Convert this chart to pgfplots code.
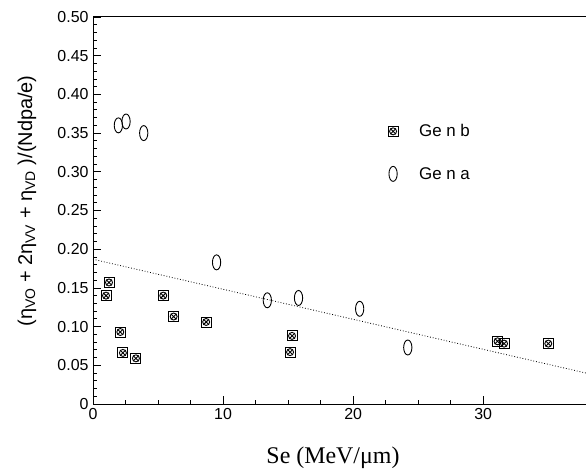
\documentclass[border=0pt]{standalone}
\usepackage{fontspec}
\setmainfont{Liberation Serif}
\newfontfamily\hel{Liberation Sans}
\usepackage{pgfplots}
\pgfplotsset{compat=1.18}

\pgfdeclareplotmark{sqx}{%
  \pgfpathrectangle{\pgfqpoint{-\pgfplotmarksize}{-\pgfplotmarksize}}{\pgfqpoint{2\pgfplotmarksize}{2\pgfplotmarksize}}%
  \pgfusepathqstroke
  \pgfpathcircle{\pgfpointorigin}{0.7\pgfplotmarksize}%
  \pgfusepathqstroke
  \pgfpathmoveto{\pgfqpoint{-0.55\pgfplotmarksize}{-0.55\pgfplotmarksize}}%
  \pgfpathlineto{\pgfqpoint{0.55\pgfplotmarksize}{0.55\pgfplotmarksize}}%
  \pgfpathmoveto{\pgfqpoint{-0.55\pgfplotmarksize}{0.55\pgfplotmarksize}}%
  \pgfpathlineto{\pgfqpoint{0.55\pgfplotmarksize}{-0.55\pgfplotmarksize}}%
  \pgfusepathqstroke
}
\pgfdeclareplotmark{oval}{%
  \pgfpathellipse{\pgfpointorigin}{\pgfqpoint{0.55\pgfplotmarksize}{0pt}}{\pgfqpoint{0pt}{\pgfplotmarksize}}%
  \pgfusepathqstroke
}

\begin{document}
\begin{tikzpicture}
\useasboundingbox (-93bp,-71bp) rectangle (493bp,404bp);
\begin{axis}[
  scale only axis,
  width=493bp, height=387bp,
  xmin=0, xmax=37.9, ymin=0, ymax=0.5,
  axis x line=box, axis y line=left,
  axis line style={line width=1pt, -},
  xtick pos=bottom,
  tick align=inside,
  major tick length=8bp, minor tick length=4bp,
  tick style={black, line width=0.8pt},
  xtick={0,10,20,30}, xticklabels={0,10,20,30},
  minor x tick num=3,
  ytick={0,0.05,0.10,0.15,0.20,0.25,0.30,0.35,0.40,0.45,0.50},
  yticklabels={0,0.05,0.10,0.15,0.20,0.25,0.30,0.35,0.40,0.45,0.50},
  minor y tick num=4,
  ticklabel style={font=\hel\fontsize{16}{18}\selectfont},
  xticklabel style={yshift=-1bp},
  yticklabel style={xshift=-1bp},
  legend style={at={(axis cs:22.67,0.364)}, anchor=north west, draw=none, fill=none,
    font=\hel\fontsize{17}{20}\selectfont, row sep=25bp, inner sep=0pt},
  legend cell align=left,
  legend image code/.code={\draw[#1] plot coordinates {(0.35cm,0cm)};},
  clip=false,
]
\addplot[only marks, mark=sqx, mark size=5bp, line width=0.9pt] coordinates {
  (1.0,0.140) (1.23,0.157) (2.1,0.093) (2.3,0.066) (3.3,0.059)
  (5.4,0.140) (6.2,0.113) (8.7,0.106) (15.3,0.088) (15.15,0.067)
  (31.1,0.081) (31.6,0.078) (35.0,0.078)
};
\addlegendentry{\hspace{19bp}Ge n b}
\addplot[only marks, mark=oval, mark size=7.5bp, line width=0.9pt] coordinates {
  (1.95,0.360) (2.54,0.365) (3.9,0.350) (9.5,0.183) (13.4,0.134)
  (15.8,0.137) (20.5,0.123) (24.2,0.073)
};
\addlegendentry{\hspace{19bp}Ge n a}
\addplot[forget plot, dotted, line width=0.8pt] coordinates {(0,0.187) (37.9,0.040)};
\end{axis}
\node[rotate=90, font=\hel\fontsize{20}{24}\selectfont] at (-66bp,203bp)
  {(η\textsubscript{VO} + 2η\textsubscript{VV} + η\textsubscript{VD} )/(Ndpa/e)};
\node[font=\fontsize{24}{28}\selectfont] at (240bp,-54bp) {Se (MeV/μm)};
\end{tikzpicture}
\end{document}
